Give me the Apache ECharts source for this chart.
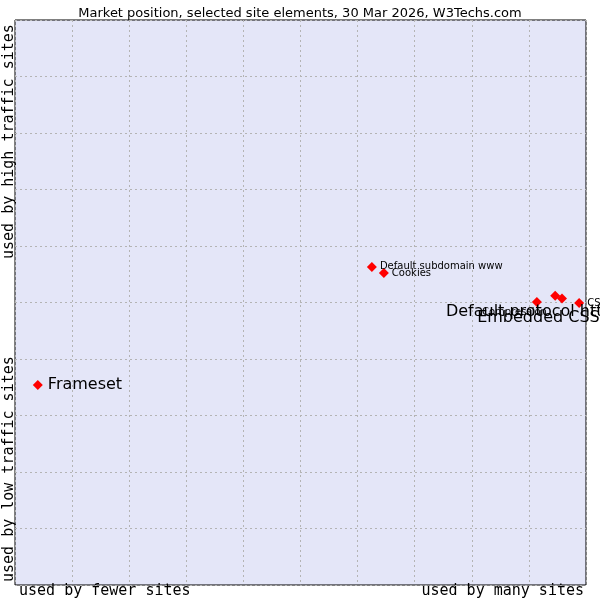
<!DOCTYPE html><html><head><meta charset="utf-8"><script src="https://cdn.jsdelivr.net/npm/echarts@6/dist/echarts.min.js"></script></head><body style="margin:0"><div id="c" style="width:600px;height:600px"></div><script>
const names=["Frameset","Default subdomain www","Cookies","Default protocol https","Embedded CSS","Compression","CSS"];
const xs=[0.4,6.25,6.46,9.14,9.46,9.58,9.88];
const ys=[3.54,5.63,5.52,5.01,5.12,5.07,4.99];
const big=[true,false,false,true,true,false,false];
const labelPos=[[5,0],[3,0],[3,0],[-96,10],[-83,22],[-85,14],[3,0]];
const c=echarts.init(document.getElementById('c'));
c.setOption({animation:false,backgroundColor:'#fff',
title:{text:'Market position, selected site elements, 30 Mar 2026, W3Techs.com',left:'center',top:2,textStyle:{fontFamily:'DejaVu Sans',fontSize:13,fontWeight:'normal',color:'#000'}},
grid:{left:15,right:14,top:20,bottom:15,show:true,backgroundColor:'#e4e6f8',borderColor:'#000',borderWidth:1},
xAxis:{type:'value',min:0,max:10,interval:1,axisLabel:{show:false},axisTick:{show:false},axisLine:{show:false},splitLine:{lineStyle:{type:[2,3],color:'#b4b4b4'}}},
yAxis:{type:'value',min:0,max:10,interval:1,axisLabel:{show:false},axisTick:{show:false},axisLine:{show:false},splitLine:{lineStyle:{type:[2,3],color:'#b4b4b4'}}},
series:[{type:'scatter',symbol:'diamond',symbolSize:10,itemStyle:{color:'#f00',opacity:1},clip:false,labelLine:{show:false},
data:names.map((n,i)=>({value:[xs[i],ys[i]],label:{show:true,formatter:n,position:'right',offset:labelPos[i],distance:0,fontFamily:'DejaVu Sans',fontSize:big[i]?16:10,color:'#000',textBorderWidth:0}}))}],
graphic:[
{type:'text',left:19,top:584,style:{text:'used by fewer sites',font:'15px DejaVu Sans Mono',fill:'#000'}},
{type:'text',right:16,top:584,style:{text:'used by many sites',font:'15px DejaVu Sans Mono',fill:'#000'}},
{type:'text',x:2,y:259,rotation:Math.PI/2,style:{text:'used by high traffic sites',font:'15px DejaVu Sans Mono',fill:'#000',align:'left',verticalAlign:'top'}},
{type:'text',x:2,y:582,rotation:Math.PI/2,style:{text:'used by low traffic sites',font:'15px DejaVu Sans Mono',fill:'#000',align:'left',verticalAlign:'top'}}
]});
</script></body></html>
